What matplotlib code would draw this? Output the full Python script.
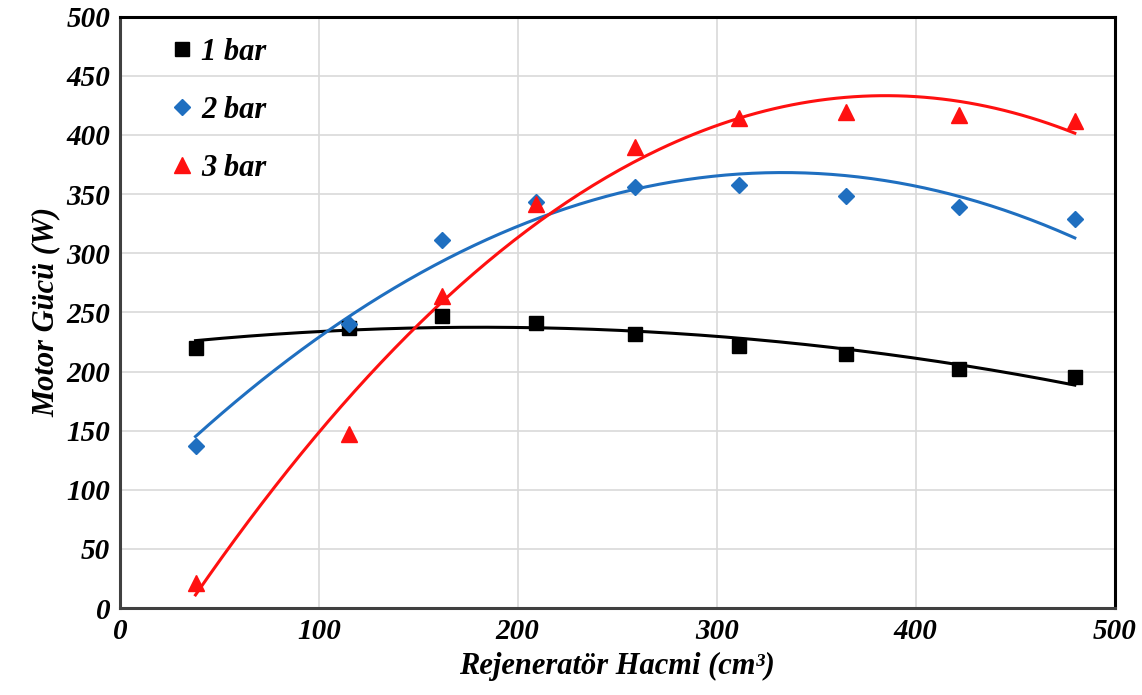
import matplotlib.pyplot as plt
import numpy as np

# regenerator volume (cm3) and engine power (W) per charge pressure
volume = [38, 115, 162, 209, 259, 311, 365, 422, 480]
power_1bar = [220, 237, 247, 241, 232, 222, 215, 202, 195]
power_2bar = [137, 240, 311, 343, 356, 358, 348, 339, 329]
power_3bar = [21, 147, 264, 342, 390, 414, 419, 417, 412]

series = [
    ("1 bar", power_1bar, "black", "s", 10),
    ("2 bar", power_2bar, "#1f6fc0", "D", 8),
    ("3 bar", power_3bar, "#ff1010", "^", 11),
]

plt.rcParams["font.family"] = "Liberation Serif"

fig = plt.figure(figsize=(11.42, 6.95), dpi=100)
ax = fig.add_axes([0.105, 0.125, 0.871, 0.851])

x = np.array(volume, dtype=float)
xs = np.linspace(x.min(), x.max(), 200)
for label, y, color, marker, ms in series:
    # second order trendline through the measured points
    coef = np.polyfit(x, np.array(y, dtype=float), 2)
    ax.plot(xs, np.polyval(coef, xs), color=color, lw=2.2, zorder=2)
    ax.plot(x, y, linestyle="none", marker=marker, color=color,
            markersize=ms, label=label, zorder=3)

ax.set_xlim(0, 500)
ax.set_ylim(0, 500)
ax.set_xticks(np.arange(0, 501, 100))
ax.set_yticks(np.arange(0, 501, 50))
ax.grid(True, color="#d9d9d9", lw=1.2)
ax.set_axisbelow(True)
ax.tick_params(length=0, pad=7)
for lab in ax.get_xticklabels() + ax.get_yticklabels():
    lab.set_fontsize(21)
    lab.set_fontweight("bold")
    lab.set_fontstyle("italic")
for side in ["top", "right", "left", "bottom"]:
    ax.spines[side].set_linewidth(2.2)
    ax.spines[side].set_color("black")
ax.spines["left"].set_color("#404040")
ax.spines["bottom"].set_color("#404040")

ax.set_xlabel("Rejeneratör Hacmi (cm³)", fontsize=22, fontweight="bold",
              fontstyle="italic", labelpad=5)
ax.set_ylabel("Motor Gücü (W)", fontsize=22, fontweight="bold",
              fontstyle="italic", labelpad=4)

leg = ax.legend(loc="upper left", bbox_to_anchor=(0.035, 0.985),
                frameon=False, handletextpad=0.12, labelspacing=0.95,
                borderaxespad=0, handlelength=1.0,
                prop={"size": 22, "weight": "bold", "style": "italic"})

fig.savefig("out.png", dpi=100)
